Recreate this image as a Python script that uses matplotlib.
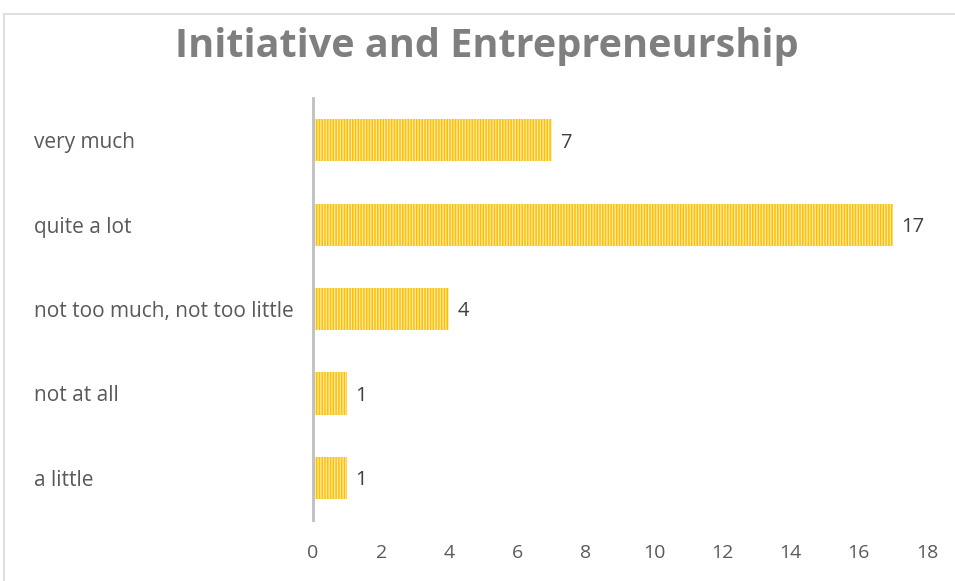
import matplotlib
matplotlib.use("Agg")
import matplotlib.pyplot as plt
from matplotlib.lines import Line2D

# Respuestas (de abajo hacia arriba)
categorias = ['a little', 'not at all', 'not too much, not too little', 'quite a lot', 'very much']
valores = [1, 1, 4, 17, 7]
ticks_x = list(range(0, 20, 2))

plt.rcParams['font.family'] = ['Open Sans', 'DejaVu Sans']
plt.rcParams['hatch.linewidth'] = 0.9

fig = plt.figure(figsize=(9.55, 5.81), dpi=100)

# marco del gráfico
fig.add_artist(Line2D([4 / 955, 1], [1 - 14 / 581] * 2, color='#D9D9D9', lw=1.2))
fig.add_artist(Line2D([4 / 955] * 2, [0, 1 - 14 / 581], color='#D9D9D9', lw=1.2))

ax = fig.add_axes([313 / 955, 1 - 520 / 581, 614 / 955, 422 / 581])
barras = ax.barh(range(len(categorias)), valores, height=0.5, color='#FFC000',
                 hatch='||||||', edgecolor='#FFEBB0', linewidth=0)
etiquetas = ax.bar_label(barras, padding=6, fontsize=14.5, color='#404040')
for t in etiquetas:
    t.set_verticalalignment('center_baseline')

ax.set_xlim(0, 18)
ax.set_ylim(-0.5, len(categorias) - 0.5)
ax.set_xticks(ticks_x)
ax.set_xticklabels([str(t) for t in ticks_x], fontsize=14, color='#595959')
ax.set_yticks(range(len(categorias)))
ax.set_yticklabels(categorias, fontsize=15, color='#595959', ha='left', va='center_baseline')
ax.tick_params(axis='y', length=0, pad=201)
ax.tick_params(axis='x', length=0, pad=17)

for lado in ['top', 'right', 'bottom']:
    ax.spines[lado].set_visible(False)
ax.spines['left'].set_color('#BFBFBF')
ax.spines['left'].set_linewidth(2)

fig.text(487 / 955, 1 - 47 / 581, 'Initiative and Entrepreneurship', ha='center', va='center',
         fontsize=28.5, fontweight='bold', color='#7F7F7F')

fig.savefig('out.png', dpi=100)
